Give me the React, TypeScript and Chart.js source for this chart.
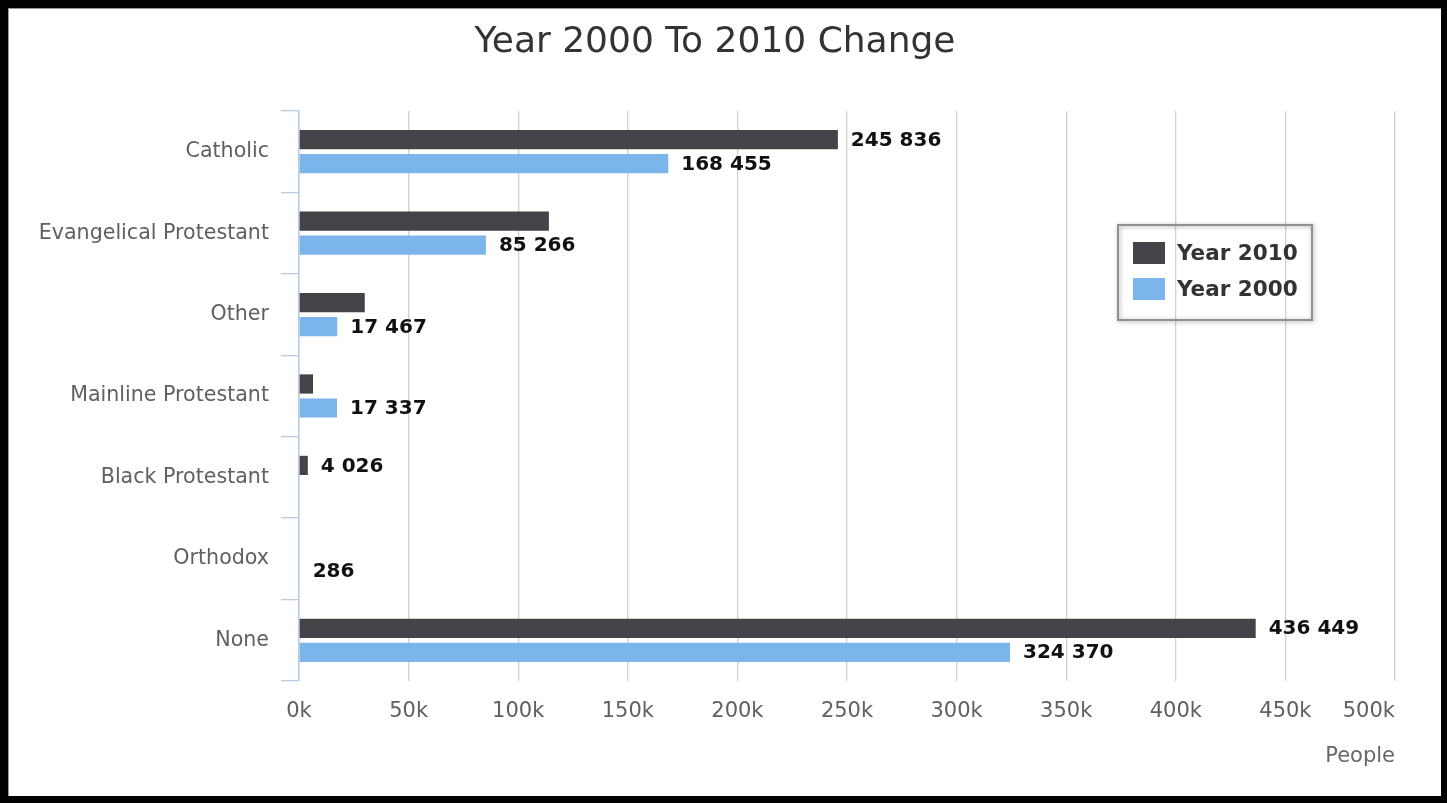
import React, { useEffect, useRef } from "react";
import { Chart, registerables } from "chart.js";

Chart.register(...registerables);

const categories = [
  "Catholic",
  "Evangelical Protestant",
  "Other",
  "Mainline Protestant",
  "Black Protestant",
  "Orthodox",
  "None",
];
const year2010 = [245836, 114000, 30000, 6400, 4026, null, 436449];
const year2000 = [168455, 85266, 17467, 17337, null, 286, 324370];
const showLabel2010 = [true, false, false, false, true, false, true];
const showLabel2000 = [true, true, true, true, false, true, true];
const xTickMax = 500000;
const xTickStep = 50000;
const titleText = "Year 2000 To 2010 Change";
const xAxisTitle = "People";

const FONT = "'DejaVu Sans', 'Lucida Grande', sans-serif";

function fmt(v: number): string {
  return String(Math.round(v)).replace(/\B(?=(\d{3})+(?!\d))/g, " ");
}

export default function App() {
  const ref = useRef<HTMLCanvasElement | null>(null);

  useEffect(() => {
    document.body.style.margin = "0";
    const canvas = ref.current;
    if (!canvas) return;

    const overlay = {
      id: "overlay",
      afterDatasetsDraw(chart: any) {
        const ctx = chart.ctx;
        const flags = [showLabel2010, showLabel2000];
        ctx.save();
        ctx.font = `bold 20px ${FONT}`;
        ctx.fillStyle = "#111111";
        ctx.textAlign = "left";
        ctx.textBaseline = "middle";
        chart.data.datasets.forEach((ds: any, di: number) => {
          const meta = chart.getDatasetMeta(di);
          meta.data.forEach((el: any, i: number) => {
            const v = ds.data[i];
            if (v == null || !flags[di][i]) return;
            ctx.fillText(fmt(v), el.x + 13, el.y + 1);
          });
        });
        ctx.restore();
      },
      afterDraw(chart: any) {
        const ctx = chart.ctx;
        const area = chart.chartArea;
        const xs = chart.scales.x;
        ctx.save();
        // title
        ctx.font = `36px ${FONT}`;
        ctx.fillStyle = "#333333";
        ctx.textAlign = "center";
        ctx.textBaseline = "middle";
        ctx.fillText(titleText, 707, 35);
        // x tick labels
        ctx.font = `21px ${FONT}`;
        ctx.fillStyle = "#606060";
        const ticks = xs.ticks;
        ticks.forEach((t: any, i: number) => {
          const px = xs.getPixelForValue(t.value);
          const label = t.value / 1000 + "k";
          ctx.textAlign = i === ticks.length - 1 ? "right" : "center";
          ctx.fillText(label, px, area.bottom + 31);
        });
        // axis title
        ctx.font = `21px ${FONT}`;
        ctx.fillStyle = "#666666";
        ctx.textAlign = "right";
        ctx.fillText(xAxisTitle, area.right, area.bottom + 76);
        // legend
        const lx = 1110, ly = 217, lw = 194, lh = 95;
        ctx.save();
        ctx.shadowColor = "rgba(0,0,0,0.35)";
        ctx.shadowBlur = 4;
        ctx.shadowOffsetX = 1;
        ctx.shadowOffsetY = 1;
        ctx.strokeStyle = "#909090";
        ctx.lineWidth = 2;
        ctx.strokeRect(lx, ly, lw, lh);
        ctx.restore();
        ctx.font = `bold 21.5px ${FONT}`;
        ctx.textAlign = "left";
        ctx.textBaseline = "middle";
        chart.data.datasets.forEach((ds: any, di: number) => {
          const cy = ly + 28 + di * 36;
          ctx.fillStyle = ds.backgroundColor;
          ctx.fillRect(lx + 15, cy - 11, 32, 22);
          ctx.fillStyle = "#333333";
          ctx.fillText(ds.label, lx + 59, cy + 1);
        });
        ctx.restore();
      },
    };

    const chart = new Chart(canvas, {
      type: "bar",
      data: {
        labels: categories,
        datasets: [
          {
            label: "Year 2010",
            data: year2010,
            backgroundColor: "#434348",
            categoryPercentage: 0.59,
            barPercentage: 0.8,
          },
          {
            label: "Year 2000",
            data: year2000,
            backgroundColor: "#7cb5ec",
            categoryPercentage: 0.59,
            barPercentage: 0.8,
          },
        ],
      } as any,
      options: {
        indexAxis: "y",
        responsive: false,
        animation: false,
        devicePixelRatio: 1,
        layout: { padding: { top: 103, left: 0, right: 46, bottom: 0 } },
        plugins: {
          legend: { display: false },
          title: { display: false },
          tooltip: { enabled: false },
        },
        scales: {
          x: {
            type: "linear",
            min: 0,
            max: xTickMax,
            ticks: { stepSize: xTickStep, display: false },
            grid: { color: "#d0d0d0", drawTicks: false, lineWidth: 1.3 },
            border: { display: false },
            afterFit: (s: any) => {
              s.height = 115;
            },
          },
          y: {
            type: "category",
            ticks: {
              color: "#606060",
              font: { family: FONT, size: 20.6 },
              padding: 12,
            },
            grid: {
              offset: true,
              drawOnChartArea: false,
              drawTicks: true,
              tickLength: 18,
              color: "#b8cce4",
              lineWidth: 1.3,
            },
            border: { display: true, color: "#b8cce4", width: 1.5 },
            afterFit: (s: any) => {
              s.width = 291;
            },
          },
        },
      } as any,
      plugins: [overlay],
    });
    return () => chart.destroy();
  }, []);

  return (
    <div
      style={{
        width: 1433,
        height: 788,
        borderStyle: "solid",
        borderColor: "#000",
        borderWidth: "8px 6px 7px 8px",
        background: "#fff",
        boxShadow: "inset 1px 1px 0 #999",
      }}
    >
      <canvas ref={ref} width={1433} height={788} style={{ display: "block" }} />
    </div>
  );
}
